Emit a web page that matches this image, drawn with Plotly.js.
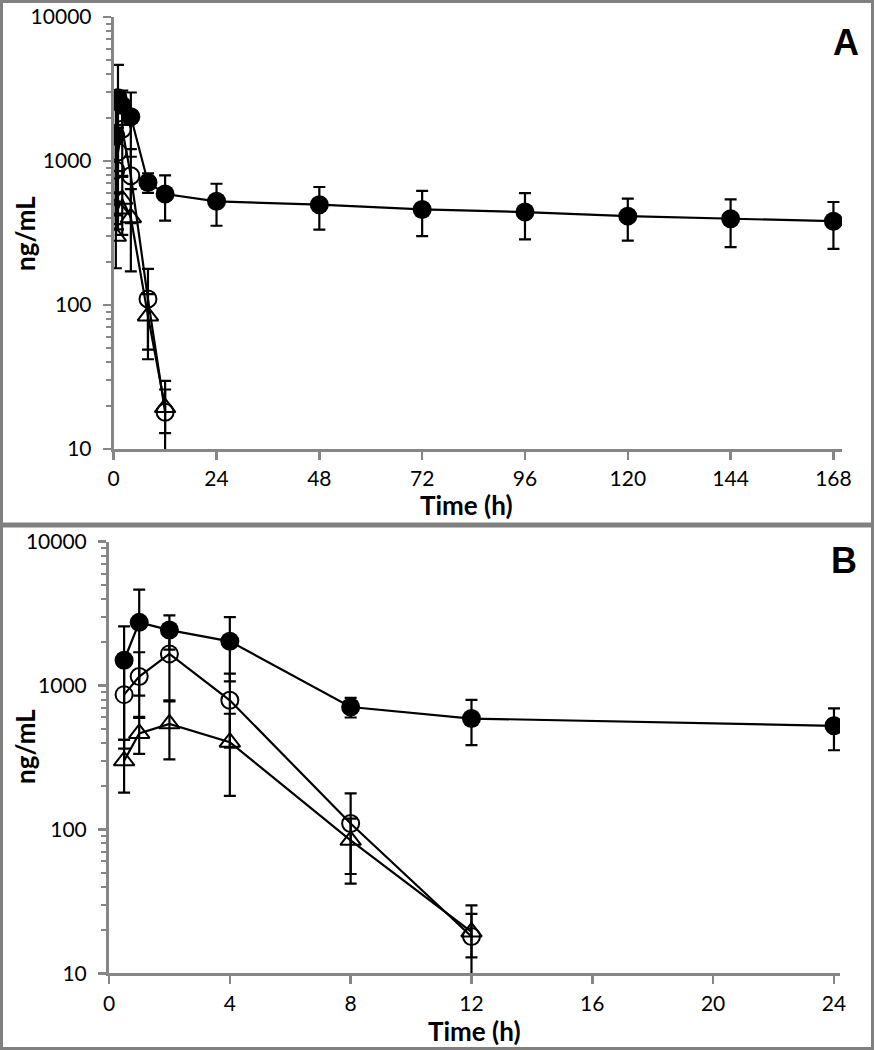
<!DOCTYPE html>
<html>
<head>
<meta charset="utf-8">
<script src="https://cdn.plot.ly/plotly-3.0.1.min.js"></script>
<style>
  html, body { margin: 0; padding: 0; background: #ffffff; }
  #chart { width: 876px; height: 1050px; }
</style>
</head>
<body>
<div id="chart"></div>
<script>
// ---- Data ----
const timeLong = [0.5, 1, 2, 4, 8, 12, 24, 48, 72, 96, 120, 144, 168];
const filledMean = [1500, 2750, 2430, 2030, 710, 590, 525, 497, 461, 442, 414, 397, 382];
const filledSD   = [1080, 1900, 650, 960, 110, 205, 170, 163, 160, 156, 134, 145, 137];

const timeShort = [0.5, 1, 2, 4, 8, 12];
const openMean = [865, 1155, 1660, 790, 110, 18];
const openSD   = [500, 550, 870, 420, 68, 11.7];

const triMean = [300, 465, 542, 404, 84, 19.4];
const triSD   = [120, 130, 235, 233, 35, 6.5];

const panelBCount = 7; // panel B shows points up to 24 h
const yTickVals = [10, 100, 1000, 10000];
const xTicksA = [0, 24, 48, 72, 96, 120, 144, 168];
const xTicksB = [0, 4, 8, 12, 16, 20, 24];

// ---- Layout helpers ----
const W = 876, H = 1050;
const px = x => x / W;
const py = y => 1 - y / H;

const axisGray = '#868686';
const tickFont = { family: 'Lato, "Open Sans", sans-serif', size: 21, color: '#000000' };

function err(arr) {
  return { type: 'data', array: arr, visible: true, color: '#000000', thickness: 2.2, width: 6 };
}

function series(x, y, e, symbol, xa, ya, size, lw) {
  return {
    x: x, y: y, xaxis: xa, yaxis: ya,
    type: 'scatter', mode: 'lines+markers',
    line: { color: '#000000', width: 2.2 },
    marker: { symbol: symbol, size: size, color: '#000000', line: { color: '#000000', width: lw } },
    error_y: err(e),
    showlegend: false, hoverinfo: 'x+y'
  };
}

const traces = [
  // Panel A
  series(timeLong, filledMean, filledSD, 'circle', 'x', 'y', 19, 0),
  series(timeShort, openMean, openSD, 'circle-open', 'x', 'y', 17, 2),
  series(timeShort, triMean, triSD, 'triangle-up-open', 'x', 'y', 18, 2),
  // Panel B
  series(timeLong.slice(0, panelBCount), filledMean.slice(0, panelBCount), filledSD.slice(0, panelBCount), 'circle', 'x2', 'y2', 19, 0),
  series(timeShort, openMean, openSD, 'circle-open', 'x2', 'y2', 17, 2),
  series(timeShort, triMean, triSD, 'triangle-up-open', 'x2', 'y2', 18, 2)
];

function xAxis(domain, range, ticks, anchor) {
  return {
    domain: domain, range: range, anchor: anchor,
    tickmode: 'array', tickvals: ticks, ticktext: ticks.map(String),
    showline: true, linecolor: axisGray, linewidth: 3,
    ticks: 'outside', ticklen: 8, tickwidth: 2.5, tickcolor: axisGray,
    ticklabelstandoff: 1,
    showgrid: false, zeroline: false, tickfont: tickFont, fixedrange: true
  };
}
function yAxis(domain, anchor) {
  return {
    domain: domain, type: 'log', range: [1, 4], anchor: anchor,
    tickmode: 'array', tickvals: yTickVals, ticktext: yTickVals.map(String),
    showline: true, linecolor: axisGray, linewidth: 3,
    ticks: 'outside', ticklen: 8, tickwidth: 2.5, tickcolor: axisGray,
    ticklabelstandoff: 7,
    minor: { ticks: 'outside', ticklen: 5, tickwidth: 2, tickcolor: axisGray, dtick: 'D1', showgrid: false },
    showgrid: false, zeroline: false, tickfont: tickFont, fixedrange: true
  };
}

const titleFont = { family: 'Lato, "Open Sans", sans-serif', size: 26, color: '#000000' };
const panelFont = { family: '"Liberation Sans", Arial, sans-serif', size: 36, color: '#000000' };

function ann(text, x, y, font, angle) {
  return { text: text, xref: 'paper', yref: 'paper', x: px(x), y: py(y),
           xanchor: 'center', yanchor: 'middle', showarrow: false, font: font, textangle: angle || 0 };
}

const layout = {
  width: W, height: H,
  margin: { l: 0, r: 0, t: 0, b: 0, pad: 0 },
  paper_bgcolor: '#ffffff', plot_bgcolor: '#ffffff',
  showlegend: false,
  xaxis: xAxis([px(113.7), px(842)], [0, 170], xTicksA, 'y'),
  yaxis: yAxis([py(449), py(17)], 'x'),
  xaxis2: xAxis([px(109), px(840)], [0, 24.2], xTicksB, 'y2'),
  yaxis2: yAxis([py(973.3), py(541.7)], 'x2'),
  annotations: [
    ann('<b>A</b>', 846, 42, panelFont),
    ann('<b>B</b>', 844, 560, panelFont),
    ann('<b>ng/mL</b>', 25, 234, titleFont, -90),
    ann('<b>ng/mL</b>', 25, 747, titleFont, -90),
    ann('<b>Time (h)</b>', 466, 505, titleFont),
    ann('<b>Time (h)</b>', 474, 1031, titleFont)
  ],
  shapes: [
    { type: 'rect', xref: 'paper', yref: 'paper', x0: px(1.5), x1: px(872.5), y0: py(1.5), y1: py(524),
      line: { color: '#808080', width: 3 }, fillcolor: 'rgba(0,0,0,0)', layer: 'below' },
    { type: 'rect', xref: 'paper', yref: 'paper', x0: px(1.5), x1: px(872.5), y0: py(526), y1: py(1048.5),
      line: { color: '#808080', width: 3 }, fillcolor: 'rgba(0,0,0,0)', layer: 'below' }
  ]
};

Plotly.newPlot('chart', traces, layout, { displayModeBar: false, staticPlot: true });
</script>
</body>
</html>
